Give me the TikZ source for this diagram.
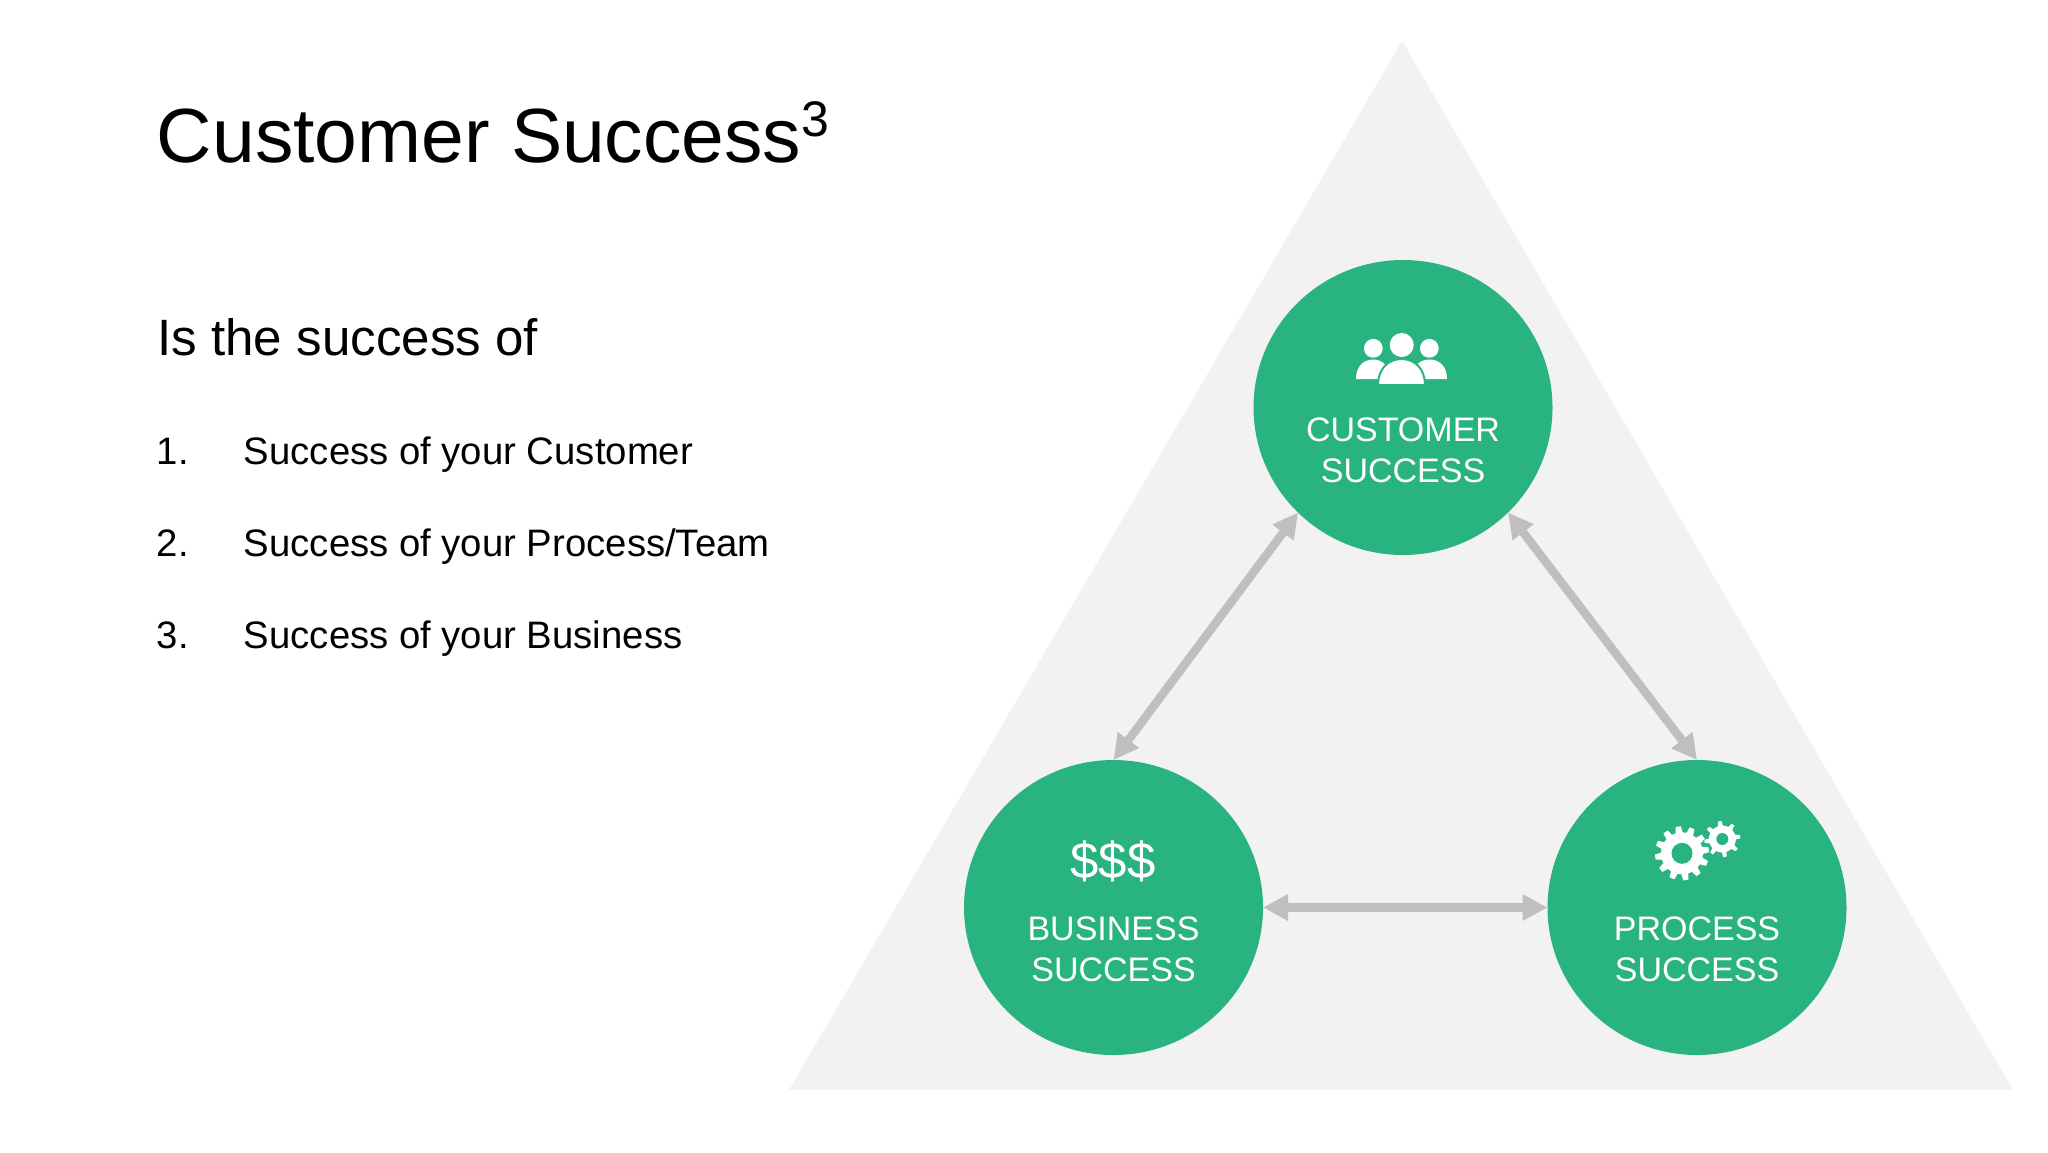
\documentclass[tikz,border=0pt]{standalone}
\usepackage{fontspec}
\setmainfont{Liberation Sans}
\usetikzlibrary{arrows.meta,shapes.geometric}
\definecolor{csgreen}{HTML}{29B380}
\definecolor{csgrey}{HTML}{BFBFBF}
\definecolor{cstri}{HTML}{F2F2F2}
\newcommand{\fsz}[1]{\fontsize{#1}{#1}\selectfont}
\newcommand{\csgear}[6]{% x y root outer hole teeth
  \fill[white] (#1,#2) circle[radius=#3];
  \foreach \a in {1,...,#6}{
    \fill[white,shift={(#1,#2)},rotate=360*\a/#6+8]
      (#3-1,-0.135*#4) -- (#4,-0.095*#4) -- (#4,0.095*#4) -- (#3-1,0.135*#4) -- cycle;
  }
  \fill[csgreen] (#1,#2) circle[radius=#5];
}
\tikzset{
  hub/.style={ellipse,fill=csgreen,minimum width=149.5pt,minimum height=147.5pt,inner sep=0pt,outer sep=0pt},
  hublabel/.style={text=white,align=center,font=\fsz{17},text depth=0pt},
  twoway/.style={draw=csgrey,line width=4.25pt,{Triangle[length=12.5pt,width=12.5pt]}-{Triangle[length=12.5pt,width=12.5pt]},shorten <=0pt,shorten >=0pt},
  heading/.style={anchor=base west,inner sep=0pt,text=black},
  item/.style={anchor=base west,inner sep=0pt,text=black,font=\fsz{19.15}}
}
\begin{document}
\begin{tikzpicture}[x=0.5pt,y=-0.5pt]
\useasboundingbox (0,0) rectangle (2048,1152);
\fill[white] (0,0) rectangle (2048,1152);
\fill[cstri] (1402,41) -- (2013,1090) -- (789,1090) -- cycle;
\node[hub] (customer) at (1403,407.5) {};
\node[hub] (business) at (1113.5,907.5) {};
\node[hub] (process) at (1697,907.5) {};
\draw[twoway] (customer.225) -- (business.90);
\draw[twoway] (customer.-45) -- (process.90);
\draw[twoway] (business.0) -- (process.180);
\node[hublabel] (customerlabel) at (1403,450.5) {CUSTOMER\\[3.6pt]SUCCESS};
\node[hublabel] (businesslabel) at (1113.5,949.5) {BUSINESS\\[3.6pt]SUCCESS};
\node[hublabel] (processlabel) at (1697,949.5) {PROCESS\\[3.6pt]SUCCESS};
\node[text=white,font=\fsz{25.5}] (dollars) at (1113,861) {\$\$\$};
% people icon
\fill[white] (1373.3,348.3) circle[radius=9.4];
\fill[white] (1429.3,348.3) circle[radius=9.4];
\fill[white] (1401.7,345) circle[radius=12];
\fill[white] (1356,379) .. controls (1356,367) and (1363,359.5) .. (1373,359.5) .. controls (1383,359.5) and (1390,367) .. (1390,379) -- cycle;
\fill[white] (1412,379) .. controls (1412,367) and (1419,359.5) .. (1429.5,359.5) .. controls (1440,359.5) and (1447,367) .. (1447,379) -- cycle;
\filldraw[fill=white,draw=csgreen,line width=1pt] (1378,385) .. controls (1378,369) and (1388,359) .. (1401.5,359) .. controls (1415,359) and (1425,369) .. (1425,385) -- cycle;
% gears icon
\csgear{1682}{853.3}{21}{27}{10.5}{12}
\csgear{1722.3}{839}{13.5}{18}{6}{8}
% text
\node[heading,font=\fsz{38.4}] (title) at (156.5,162) {Customer Success\raisebox{13pt}{\fsz{25}3}};
\node[heading,font=\fsz{25.55}] (intro) at (157,355) {Is the success of};
\node[item] (n1) at (156.5,464) {1.};
\node[item] (t1) at (243.5,464) {Success of your Customer};
\node[item] (n2) at (156.5,556) {2.};
\node[item] (t2) at (243.5,556) {Success of your Process/Team};
\node[item] (n3) at (156.5,648) {3.};
\node[item] (t3) at (243.5,648) {Success of your Business};
\end{tikzpicture}
\end{document}
